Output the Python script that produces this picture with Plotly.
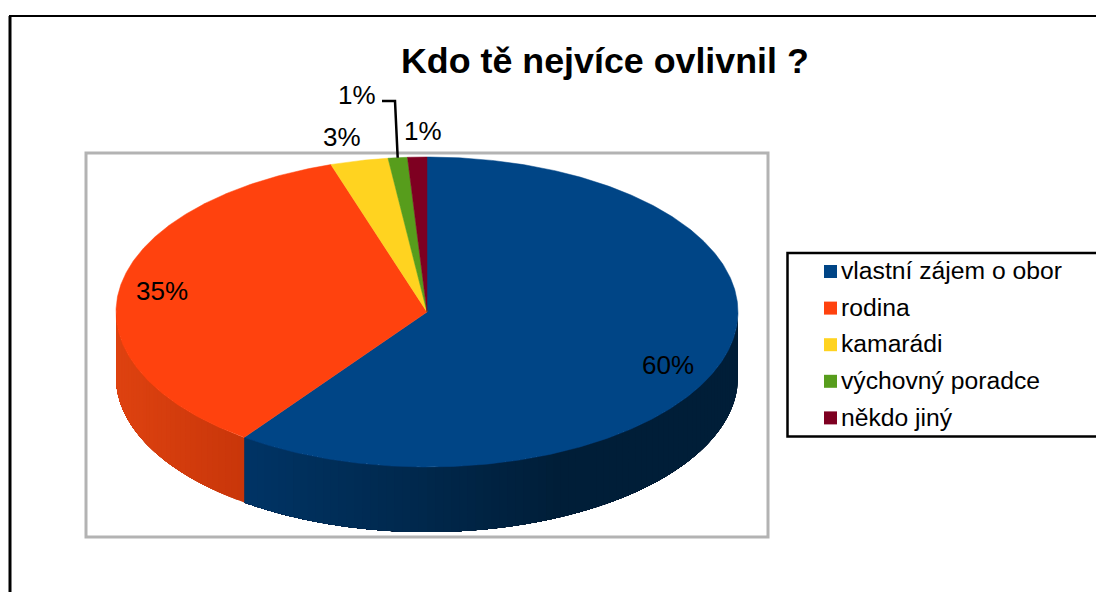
import math
import plotly.graph_objects as go

TITLE = "Kdo tě nejvíce ovlivnil ?"
categories = ["vlastní zájem o obor", "rodina", "kamarádi", "výchovný poradce", "někdo jiný"]
values = [60, 35, 3, 1, 1]
colors = ["#004586", "#FF420E", "#FFD320", "#579D1C", "#7E0021"]
label_texts = ["60%", "35%", "3%", "1%", "1%"]
label_x = [668, 162, 342, 357, 423]
label_y = [365, 291, 137, 95, 131]

# pie geometry in page pixels
CX, CY, RX, RY, DEPTH = 427, 312, 311, 155, 65
FONT = "Liberation Sans, Arial, sans-serif"
# side-wall shading: (colour at left of the span, colour at right of the span)
side_shades = {
    0: ((0, 52, 101), (0, 30, 56)),
    1: ((222, 66, 16), (200, 54, 10)),
}
SHADE_X = {0: (244, 560), 1: (116, 244)}


def pt(deg, extra=0):
    a = math.radians(deg)
    return CX + RX * math.sin(a), CY - RY * math.cos(a) + extra


fig = go.Figure()
total = sum(values)
edges = [0]
for v in values:
    edges.append(edges[-1] + v / total * 360)

# side wall, drawn first; each strip is painted over the remainder of the span, so no seams show
for i, (a0, a1) in enumerate(zip(edges[:-1], edges[1:])):
    lo, hi = max(a0, 90), min(a1, 270)
    if lo >= hi or i not in side_shades:
        continue
    c0, c1 = side_shades[i]
    x0, x1 = SHADE_X[i]
    n = max(2, int((hi - lo) / 1.5))
    step = (hi - lo) / n
    for k in range(n):
        s = lo + step * k
        m = max(8, int(hi - s))
        top = [pt(s + (hi - s) * j / m) for j in range(m + 1)]
        bot = [pt(s + (hi - s) * j / m, DEPTH) for j in range(m, -1, -1)]
        poly = top + bot + [top[0]]
        t = min(1, max(0, (pt(s + step / 2)[0] - x0) / (x1 - x0)))
        col = "rgb(%d,%d,%d)" % tuple(round(c0[q] + (c1[q] - c0[q]) * t) for q in range(3))
        fig.add_trace(go.Scatter(
            x=[p[0] for p in poly], y=[p[1] for p in poly], mode="none",
            fill="toself", fillcolor=col, hoverinfo="skip", showlegend=False))

# top faces
for name, col, a0, a1, v in zip(categories, colors, edges[:-1], edges[1:], values):
    n = max(4, int(a1 - a0) * 2)
    arc = [pt(a0 + (a1 - a0) * j / n) for j in range(n + 1)]
    poly = [(CX, CY)] + arc + [(CX, CY)]
    fig.add_trace(go.Scatter(
        x=[p[0] for p in poly], y=[p[1] for p in poly], mode="lines",
        fill="toself", fillcolor=col, line=dict(color=col, width=0.5),
        name=name, text=f"{name}: {v}%", hoverinfo="text", showlegend=False))

# legend, built from the same category list
LEG_X, LEG_TEXT_X, LEG_Y0, LEG_TEXT_DY, LEG_DY = 830.5, 841, 271.5, 1.5, 36.6
leg_y = [LEG_Y0 + LEG_DY * i for i in range(len(categories))]
fig.add_trace(go.Scatter(
    x=[LEG_X] * len(categories), y=leg_y, mode="markers",
    marker=dict(symbol="square", size=13, color=colors, line=dict(width=0)),
    hoverinfo="skip", showlegend=False))
fig.add_trace(go.Scatter(
    x=[LEG_TEXT_X] * len(categories), y=[v + LEG_TEXT_DY for v in leg_y], mode="text",
    text=categories, textposition="middle right",
    textfont=dict(family=FONT, size=24.7, color="#000000"),
    hoverinfo="skip", showlegend=False))

# leader line for the green slice
gx, gy = pt((edges[3] + edges[4]) / 2)
shapes = [
    dict(type="line", x0=10, y0=16, x1=10, y1=592, line=dict(color="#000000", width=3), layer="below"),
    dict(type="line", x0=9, y0=16, x1=1096, y1=16, line=dict(color="#000000", width=2), layer="below"),
    dict(type="rect", x0=86, y0=153, x1=768, y1=537, line=dict(color="#b3b3b3", width=3), layer="below"),
    dict(type="rect", x0=787.5, y0=253, x1=1100, y1=436.5, line=dict(color="#000000", width=2.5),
         fillcolor="#ffffff", layer="below"),
    dict(type="path", path=f"M 382 101 L 395 101 L {gx:.1f} {gy:.1f}",
         line=dict(color="#000000", width=2.5), layer="above"),
]

annotations = [
    dict(x=xx, y=yy, text=t, showarrow=False, xanchor="center", yanchor="middle",
         font=dict(family=FONT, size=26, color="#000000"))
    for t, xx, yy in zip(label_texts, label_x, label_y)
]
annotations.append(dict(x=605, y=61, text=f"<b>{TITLE}</b>", showarrow=False,
                        xanchor="center", yanchor="middle",
                        font=dict(family=FONT, size=35.8, color="#000000")))

fig.update_layout(
    width=1096, height=592, margin=dict(l=0, r=0, t=0, b=0),
    paper_bgcolor="#ffffff", plot_bgcolor="#ffffff", showlegend=False,
    xaxis=dict(range=[0, 1096], visible=False, fixedrange=True),
    yaxis=dict(range=[592, 0], visible=False, fixedrange=True),
    shapes=shapes, annotations=annotations,
)
fig.write_html("out.html", config={"displayModeBar": False},
               post_script="document.body.style.margin='0';document.body.style.overflow='hidden';")
